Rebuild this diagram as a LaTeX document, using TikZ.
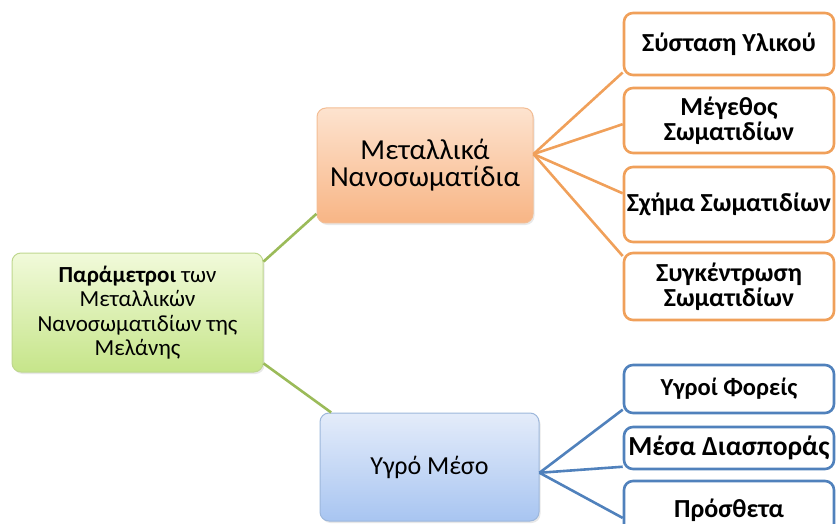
\documentclass[tikz,border=0pt]{standalone}
\usepackage{fontspec}
\setmainfont{Carlito}
\usetikzlibrary{shadows}

\definecolor{grnline}{HTML}{9BBB59}
\definecolor{grnedge}{HTML}{BFD78F}
\definecolor{grntop}{HTML}{F1FADA}
\definecolor{grnbot}{HTML}{C6E58A}
\definecolor{orgline}{HTML}{F0A05A}
\definecolor{orgedge}{HTML}{F3BD94}
\definecolor{orgtop}{HTML}{FDE3CF}
\definecolor{orgbot}{HTML}{F8B585}
\definecolor{bluline}{HTML}{5081BC}
\definecolor{bluedge}{HTML}{9DB7DB}
\definecolor{blutop}{HTML}{E4ECFA}
\definecolor{blubot}{HTML}{A8C5F1}

\begin{document}
\begin{tikzpicture}[
        x=1pt, y=-1pt,
        box/.style={rectangle, rounded corners=9pt, align=center, inner sep=2pt},
        shade/.style={drop shadow={opacity=0.18, shadow xshift=1.5pt, shadow yshift=-2pt}},
        rootbox/.style={box, shade, draw=grnedge, line width=1pt, top color=grntop, bottom color=grnbot,
            minimum width=251pt, minimum height=119pt, font=\fontsize{23}{24.5}\selectfont},
        metalbox/.style={box, shade, draw=orgedge, line width=1pt, top color=orgtop, bottom color=orgbot,
            minimum width=216pt, minimum height=115pt, font=\fontsize{29}{27}\selectfont},
        fluidbox/.style={box, shade, draw=bluedge, line width=1pt, top color=blutop, bottom color=blubot,
            minimum width=219pt, minimum height=108pt, font=\fontsize{26}{27}\selectfont},
        leaf/.style={box, fill=white, line width=2.6pt, minimum width=210pt, inner sep=0pt,
            font=\bfseries\fontsize{26}{25}\selectfont},
        orgleaf/.style={leaf, draw=orgline},
        bluleaf/.style={leaf, draw=bluline},
        link/.style={line width=2.6pt}
    ]
    \useasboundingbox (0,0) rectangle (836,524);
    \clip (0,0) rectangle (836,524);

    \node[rootbox] (root) at (137.5,312.5) {\textbf{Παράμετροι} των\\Μεταλλικών\\Νανοσωματιδίων της\\Μελάνης};
    \node[metalbox] (metal) at (425,165.5) {Μεταλλικά\\Νανοσωματίδια};
    \node[fluidbox] (fluid) at (429.5,467) {Υγρό Μέσο};

    \node[orgleaf, minimum height=62pt] (comp) at (729,44) {Σύσταση Υλικού};
    \node[orgleaf, minimum height=65pt] (size) at (729,120.5) {Μέγεθος\\Σωματιδίων};
    \node[orgleaf, minimum height=75pt] (shape) at (729,204.5) {Σχήμα Σωματιδίων};
    \node[orgleaf, minimum height=67pt] (conc) at (729,286.5) {Συγκέντρωση\\Σωματιδίων};

    \node[bluleaf, minimum height=48pt, font=\bfseries\fontsize{24.5}{25}\selectfont] (carrier) at (729,389) {Υγροί Φορείς};
    \node[bluleaf, minimum height=42pt, font=\bfseries\fontsize{27.5}{25}\selectfont] (disp) at (729,448) {Μέσα Διασποράς};
    \node[bluleaf, minimum height=59pt] (add) at (729,510.5) {Πρόσθετα};

    \draw[link, grnline] (root.22) -- (metal.204);
    \draw[link, grnline] (root.-22) -- (fluid.151);

    \draw[link, orgline] (metal.6) -- (comp.195);
    \draw[link, orgline] (metal.6) -- (size.182);
    \draw[link, orgline] (metal.6) -- (shape.174);
    \draw[link, orgline] (metal.6) -- (conc.164);

    \draw[link, bluline] (fluid.-3) -- (carrier.191);
    \draw[link, bluline] (fluid.-3) -- (disp.190);
    \draw[link, bluline] (fluid.-3) -- (add.184);
\end{tikzpicture}
\end{document}
